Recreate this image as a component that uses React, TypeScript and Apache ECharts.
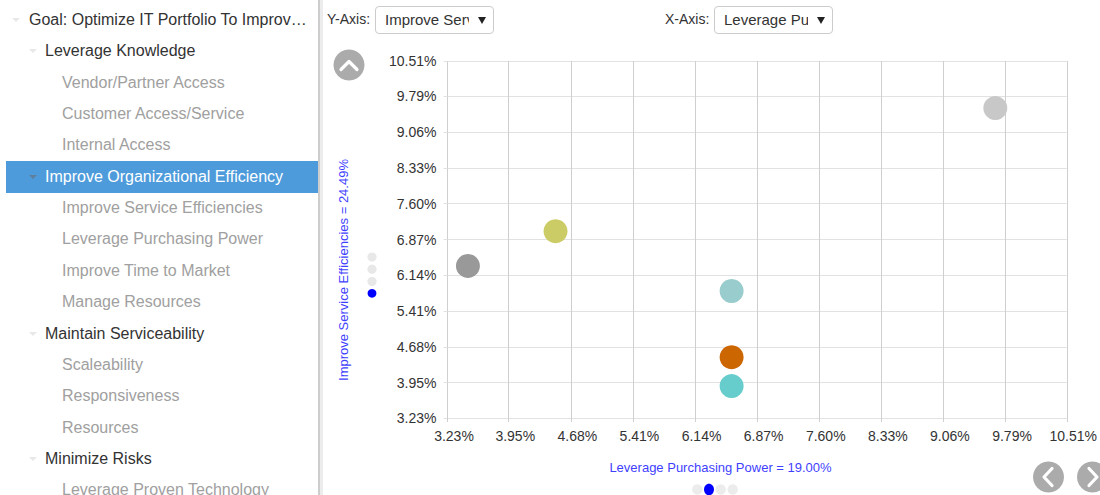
import React, { useEffect, useRef } from "react";
import * as echarts from "echarts";

const FONT = "'Liberation Sans', Arial, Helvetica, sans-serif";

// Axis ticks (same scale on both axes)
const tickValues = [3.23, 3.95, 4.68, 5.41, 6.14, 6.87, 7.6, 8.33, 9.06, 9.79, 10.51];
const tickLabels = ["3.23%", "3.95%", "4.68%", "5.41%", "6.14%", "6.87%", "7.60%", "8.33%", "9.06%", "9.79%", "10.51%"];

// Bubbles
const pointX = [9.67, 4.5, 3.47, 6.57, 6.57, 6.57];
const pointY = [9.55, 7.04, 6.33, 5.82, 4.47, 3.88];
const pointColors = ["#c8c8c8", "#cccc66", "#999999", "#99cccc", "#cc6600", "#66cccc"];

const xAxisTitle = "Leverage Purchasing Power = 19.00%";
const yAxisTitle = "Improve Service Efficiencies = 24.49%";

const yAxisSelect = "Improve Service Efficiencies";
const xAxisSelect = "Leverage Purchasing Power";

const treeLabels = [
  "Goal: Optimize IT Portfolio To Improv…",
  "Leverage Knowledge",
  "Vendor/Partner Access",
  "Customer Access/Service",
  "Internal Access",
  "Improve Organizational Efficiency",
  "Improve Service Efficiencies",
  "Leverage Purchasing Power",
  "Improve Time to Market",
  "Manage Resources",
  "Maintain Serviceability",
  "Scaleability",
  "Responsiveness",
  "Resources",
  "Minimize Risks",
  "Leverage Proven Technology",
];
const treeLevels = [0, 1, 2, 2, 2, 1, 2, 2, 2, 2, 1, 2, 2, 2, 1, 2];
const selectedIndex = 5;

function labelFor(v: number) {
  let best = 0;
  for (let i = 0; i < tickValues.length; i++) {
    if (Math.abs(tickValues[i] - v) < Math.abs(tickValues[best] - v)) best = i;
  }
  return tickLabels[best];
}

const ROW_H = 31.35;
const ROW_C0 = 20;

function Tree() {
  return (
    <div style={{ position: "absolute", left: 0, top: 0, width: 318, height: 495, overflow: "hidden" }}>
      {treeLabels.map((t, i) => {
        const lvl = treeLevels[i];
        const sel = i === selectedIndex;
        const center = ROW_C0 + i * ROW_H;
        const textLeft = lvl === 0 ? 29 : lvl === 1 ? 45 : 62;
        const color = sel ? "#ffffff" : lvl === 2 ? "#a0a0a0" : "#333333";
        return (
          <div key={i}>
            {sel && (
              <div
                style={{
                  position: "absolute",
                  left: 6,
                  top: center - 15.5,
                  width: 312,
                  height: 31.5,
                  background: "#4d9bdb",
                }}
              />
            )}
            {lvl < 2 && (
              <div
                style={{
                  position: "absolute",
                  left: lvl === 0 ? 12 : 29,
                  top: center - 2,
                  width: 0,
                  height: 0,
                  borderLeft: "4px solid transparent",
                  borderRight: "4px solid transparent",
                  borderTop: "4px solid " + (sel ? "#5f7f9e" : "#e8e8e8"),
                }}
              />
            )}
            <div
              style={{
                position: "absolute",
                left: textLeft,
                top: center - 10,
                height: 20,
                lineHeight: "20px",
                fontFamily: FONT,
                fontSize: 16,
                color,
                whiteSpace: "nowrap",
              }}
            >
              {t}
            </div>
          </div>
        );
      })}
    </div>
  );
}

function SelectBox({ left, label, labelLeft, value }: { left: number; label: string; labelLeft: number; value: string }) {
  return (
    <>
      <div
        style={{
          position: "absolute",
          left: labelLeft,
          top: 9,
          height: 20,
          lineHeight: "20px",
          fontFamily: FONT,
          fontSize: 14,
          color: "#333",
          whiteSpace: "nowrap",
        }}
      >
        {label}
      </div>
      <div
        style={{
          position: "absolute",
          left,
          top: 6,
          width: 117,
          height: 26,
          border: "1px solid #cccccc",
          borderRadius: 4,
          background: "#fff",
          boxSizing: "content-box",
          overflow: "hidden",
        }}
      >
        <div
          style={{
            position: "absolute",
            left: 9,
            top: 3,
            width: 84,
            height: 20,
            overflow: "hidden",
            whiteSpace: "nowrap",
            lineHeight: "20px",
            fontFamily: FONT,
            fontSize: 15,
            color: "#333",
          }}
        >
          {value}
        </div>
        <div
          style={{
            position: "absolute",
            left: 102,
            top: 10,
            width: 0,
            height: 0,
            borderLeft: "4px solid transparent",
            borderRight: "4px solid transparent",
            borderTop: "7px solid #222",
          }}
        />
      </div>
    </>
  );
}

export default function App() {
  const ref = useRef<HTMLDivElement>(null);

  useEffect(() => {
    if (!ref.current) return;
    const chart = echarts.init(ref.current, undefined, { renderer: "svg" });
    const axisCommon = {
      type: "value" as const,
      min: tickValues[0],
      max: tickValues[tickValues.length - 1],
      axisLine: { show: false },
    };
    const option: any = {
      animation: false,
      grid: { left: 447.5, right: 30.5, top: 61, bottom: 77, containLabel: false },
      xAxis: {
        ...axisCommon,
        axisTick: { show: true, length: 4, customValues: tickValues, lineStyle: { color: "#cfcfcf" } },
        axisLabel: {
          customValues: tickValues,
          formatter: (v: number) => labelFor(v),
          color: "#333",
          fontSize: 14,
          fontFamily: FONT,
          margin: 11,
          padding: [0, 0, 0, 13],
        },
        splitLine: { show: true, lineStyle: { color: "#cfcfcf", width: 1 } },
      },
      yAxis: {
        ...axisCommon,
        axisTick: { show: true, length: 4, customValues: tickValues, lineStyle: { color: "#e2e2e2" } },
        axisLabel: {
          customValues: tickValues,
          formatter: (v: number) => labelFor(v),
          color: "#333",
          fontSize: 14,
          fontFamily: FONT,
          margin: 11,
        },
        splitLine: { show: true, lineStyle: { color: "#e2e2e2", width: 1 } },
      },
      series: [
        {
          type: "scatter",
          symbolSize: 24,
          data: pointX.map((x, i) => ({
            value: [x, pointY[i]],
            itemStyle: { color: pointColors[i], opacity: 1 },
          })),
        },
      ],
      graphic: [
        // up button
        { type: "circle", shape: { cx: 349, cy: 65, r: 15.5 }, style: { fill: "#ababab" } },
        {
          type: "polyline",
          shape: { points: [[341, 69.5], [349, 61.5], [357, 69.5]] },
          style: { stroke: "#fff", lineWidth: 3.2, fill: null, lineCap: "round", lineJoin: "round" },
        },
        // vertical page dots
        { type: "circle", shape: { cx: 372, cy: 257, r: 4.6 }, style: { fill: "#e8e8e8" } },
        { type: "circle", shape: { cx: 372, cy: 269.2, r: 4.6 }, style: { fill: "#e8e8e8" } },
        { type: "circle", shape: { cx: 372, cy: 281.4, r: 4.6 }, style: { fill: "#e8e8e8" } },
        { type: "circle", shape: { cx: 372, cy: 293.3, r: 4.4 }, style: { fill: "#0000ff" } },
        // horizontal page dots
        { type: "circle", shape: { cx: 697.3, cy: 489.5, r: 5.2 }, style: { fill: "#ececec" } },
        { type: "circle", shape: { cx: 720.7, cy: 489.5, r: 5.2 }, style: { fill: "#ececec" } },
        { type: "circle", shape: { cx: 732.7, cy: 489.5, r: 5.2 }, style: { fill: "#ececec" } },
        { type: "ellipse", shape: { cx: 709, cy: 489.5, rx: 5, ry: 5.8 }, style: { fill: "#0000ff" } },
        // prev / next buttons
        { type: "circle", shape: { cx: 1048.5, cy: 477, r: 15.5 }, style: { fill: "#ababab" } },
        {
          type: "polyline",
          shape: { points: [[1052, 468.5], [1044, 477], [1052, 485.5]] },
          style: { stroke: "#fff", lineWidth: 3.2, fill: null, lineCap: "round", lineJoin: "round" },
        },
        { type: "circle", shape: { cx: 1092.5, cy: 477, r: 15.5 }, style: { fill: "#ababab" } },
        {
          type: "polyline",
          shape: { points: [[1089, 468.5], [1097, 477], [1089, 485.5]] },
          style: { stroke: "#fff", lineWidth: 3.2, fill: null, lineCap: "round", lineJoin: "round" },
        },
        // axis titles
        {
          type: "text",
          x: 343,
          y: 270,
          rotation: Math.PI / 2,
          style: {
            text: yAxisTitle,
            fill: "#3f3fff",
            fontSize: 13,
            fontFamily: FONT,
            align: "center",
            verticalAlign: "middle",
          },
        },
        {
          type: "text",
          x: 720.5,
          y: 467,
          style: {
            text: xAxisTitle,
            fill: "#3f3fff",
            fontSize: 13,
            fontFamily: FONT,
            align: "center",
            verticalAlign: "middle",
          },
        },
      ],
    };
    chart.setOption(option);
    return () => chart.dispose();
  }, []);

  return (
    <div
      style={{
        position: "fixed",
        left: 0,
        top: 0,
        width: 1100,
        height: 495,
        overflow: "hidden",
        background: "#fff",
      }}
    >
      <div ref={ref} style={{ position: "absolute", left: 0, top: 0, width: 1100, height: 495 }} />
      <Tree />
      <div style={{ position: "absolute", left: 318, top: 0, width: 2, height: 495, background: "#cdcdcd" }} />
      <div style={{ position: "absolute", left: 320, top: 0, width: 3, height: 495, background: "#ececec" }} />
      <SelectBox labelLeft={327} left={375} label="Y-Axis:" value={yAxisSelect} />
      <SelectBox labelLeft={665} left={714} label="X-Axis:" value={xAxisSelect} />
    </div>
  );
}
